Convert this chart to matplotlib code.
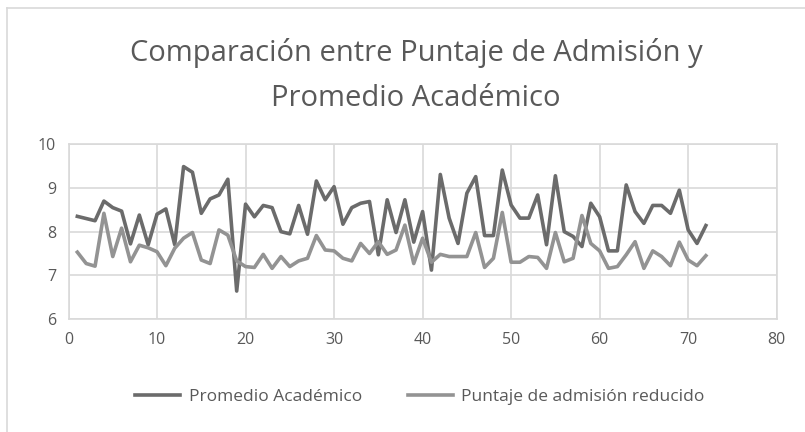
import matplotlib
matplotlib.use("Agg")
import matplotlib.pyplot as plt
from matplotlib.lines import Line2D

# data
x_vals = list(range(1, 73))
promedio = [8.35, 8.30, 8.25, 8.70, 8.55, 8.47, 7.72, 8.38, 7.70, 8.40,
            8.52, 7.70, 9.49, 9.36, 8.42, 8.75, 8.84, 9.20, 6.64, 8.63,
            8.34, 8.60, 8.55, 8.00, 7.95, 8.60, 7.94, 9.16, 8.73, 9.03,
            8.17, 8.55, 8.65, 8.69, 7.47, 8.73, 7.98, 8.73, 7.76, 8.46,
            7.12, 9.31, 8.31, 7.73, 8.88, 9.26, 7.91, 7.91, 9.41, 8.61,
            8.31, 8.31, 8.84, 7.70, 9.28, 8.00, 7.89, 7.66, 8.65, 8.34,
            7.56, 7.56, 9.07, 8.46, 8.19, 8.60, 8.60, 8.42, 8.95, 8.04,
            7.73, 8.14]
puntaje = [7.53, 7.27, 7.21, 8.42, 7.43, 8.08, 7.31, 7.69, 7.63, 7.54,
           7.22, 7.62, 7.85, 7.98, 7.35, 7.27, 8.04, 7.92, 7.33, 7.20,
           7.18, 7.48, 7.16, 7.43, 7.20, 7.33, 7.39, 7.91, 7.58, 7.56,
           7.39, 7.33, 7.73, 7.50, 7.77, 7.48, 7.58, 8.15, 7.27, 7.85,
           7.30, 7.48, 7.43, 7.43, 7.43, 7.98, 7.18, 7.39, 8.44, 7.30,
           7.30, 7.43, 7.41, 7.16, 7.98, 7.31, 7.39, 8.37, 7.73, 7.56,
           7.16, 7.20, 7.47, 7.77, 7.16, 7.56, 7.43, 7.22, 7.76, 7.35,
           7.22, 7.45]
x_ticks = [0, 10, 20, 30, 40, 50, 60, 70, 80]
y_ticks = [6, 7, 8, 9, 10]
title_lines = ["Comparación entre Puntaje de Admisión y", "Promedio Académico"]
labels = ["Promedio Académico", "Puntaje de admisión reducido"]

W, H = 805, 432
plt.rcParams["font.family"] = ["Open Sans", "DejaVu Sans"]
text_color = "#595959"
grid_color = "#d9d9d9"
dark = "#6b6b6b"
light = "#939393"

fig = plt.figure(figsize=(W / 100, H / 100), dpi=100)
fig.patch.set_facecolor("white")

# plot area in pixels: left 68.5, right 776.7, top 144.3, bottom 319
ax = fig.add_axes([68.5 / W, 1 - 319 / H, (776.7 - 68.5) / W, (319 - 144.3) / H])

ax.plot(x_vals, promedio, color=dark, lw=2.6, solid_joinstyle="round")
ax.plot(x_vals, puntaje, color=light, lw=2.6, solid_joinstyle="round")

ax.set_xlim(0, 80)
ax.set_ylim(6, 10)
ax.set_xticks(x_ticks)
ax.set_yticks(y_ticks)
ax.grid(True, color=grid_color, lw=1.2)
ax.set_axisbelow(True)
for s in ax.spines.values():
    s.set_color(grid_color)
    s.set_linewidth(1.2)
ax.tick_params(length=0, labelsize=11.5, labelcolor=text_color, pad=9)

fig.text(416 / W, 1 - 53 / H, title_lines[0], ha="center", va="center",
         fontsize=21, color=text_color)
fig.text(416 / W, 1 - 98 / H, title_lines[1], ha="center", va="center",
         fontsize=21, color=text_color)

handles = [Line2D([], [], color=dark, lw=2.6), Line2D([], [], color=light, lw=2.6)]
fig.legend(handles, labels, loc="center", bbox_to_anchor=(420 / W, 1 - 397 / H),
           ncol=2, frameon=False, fontsize=12.5, labelcolor=text_color,
           handlelength=2.6, handletextpad=0.5, columnspacing=2.6)

# outer chart frame (left and top edges visible in the crop)
fig.add_artist(Line2D([7 / W, 7 / W], [0, 1 - 8 / H], transform=fig.transFigure,
                      color=grid_color, lw=1.2))
fig.add_artist(Line2D([7 / W, 1], [1 - 8 / H, 1 - 8 / H], transform=fig.transFigure,
                      color=grid_color, lw=1.2))

fig.savefig("out.png", dpi=100)
